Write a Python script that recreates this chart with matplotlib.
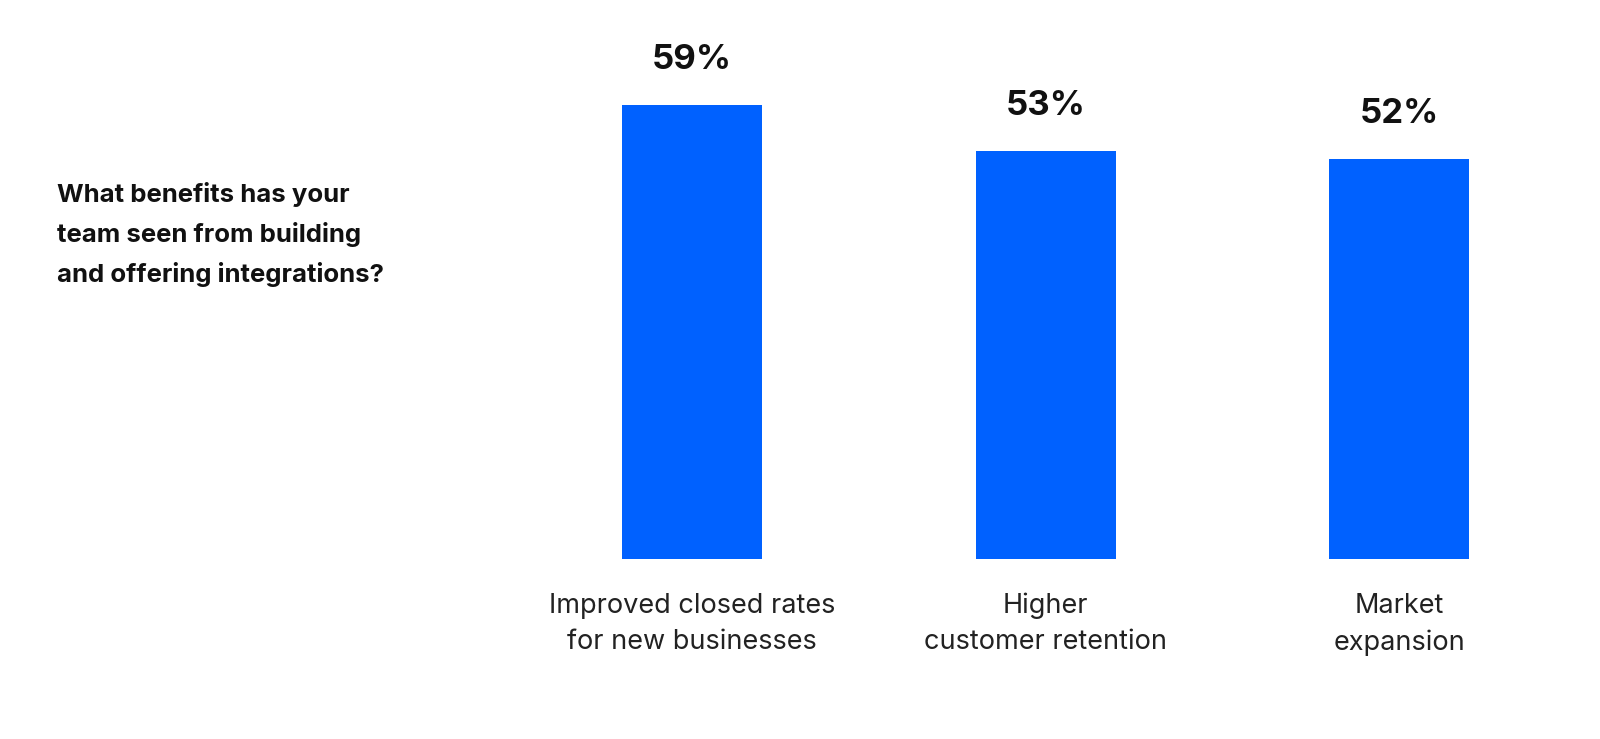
import matplotlib.pyplot as plt

categories = ["Improved closed rates\nfor new businesses", "Higher\ncustomer retention", "Market\nexpansion"]
values = [59, 53, 52]
labels = ["59%", "53%", "52%"]
question = "What benefits has your\nteam seen from building\nand offering integrations?"

plt.rcParams['font.family'] = ['Inter', 'DejaVu Sans']

fig = plt.figure(figsize=(16, 7.39), dpi=100)
ax = fig.add_axes([0.30, 0.2436, 0.675, 0.7564])
x = list(range(len(values)))
ax.bar(x, values, width=0.396, color='#0061ff')
for xi, v, t in zip(x, values, labels):
    ax.text(xi, v + 3.8, t, ha='center', va='bottom', fontsize=25, fontweight='bold', color='#111111')
for xi, c in zip(x, categories):
    ax.text(xi, -4.4, c, ha='center', va='top', fontsize=19.5, color='#222222', linespacing=1.5)
ax.set_xlim(-0.6, 2.455)
ax.set_ylim(0, 72.7)
ax.axis('off')

fig.text(0.0356, 1 - 182 / 739, question, ha='left', va='top', fontsize=18.5, fontweight='bold',
         color='#111111', linespacing=1.75)

fig.savefig('out.png', dpi=100, facecolor='white')
